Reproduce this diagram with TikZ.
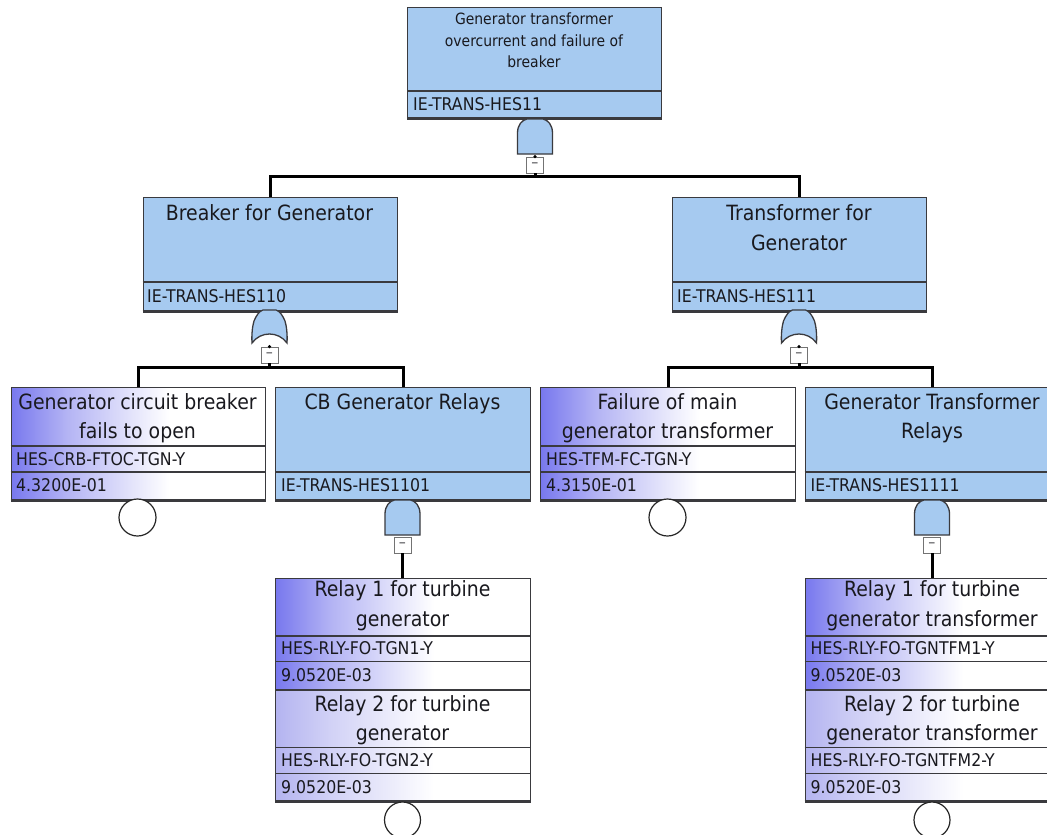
\documentclass[tikz,border=0pt]{standalone}
\usepackage{fontspec}
\setmainfont{DejaVu Sans}[FakeStretch=0.9]
\definecolor{gatec}{RGB}{166,202,240}
\definecolor{bordc}{RGB}{58,58,62}
\definecolor{evL}{RGB}{120,120,238}
\definecolor{evM}{RGB}{180,180,244}
\definecolor{evLL}{RGB}{180,180,240}
\definecolor{evLM}{RGB}{210,210,246}
\definecolor{txtc}{RGB}{25,25,30}
\pgfdeclarehorizontalshading{evshade}{100bp}{color(0bp)=(evL); color(25bp)=(evL); color(36bp)=(evM); color(56bp)=(white); color(100bp)=(white)}
\pgfdeclarehorizontalshading{evshadeb}{100bp}{color(0bp)=(evLL); color(25bp)=(evLL); color(36bp)=(evLM); color(56bp)=(white); color(100bp)=(white)}
\newcommand\myandgate[3]{%
  \draw[gatest] ({#2-17.5},{#3+35}) -- ({#2-17.5},{#3+14})
    .. controls ({#2-17.5},{#3+6}) and ({#2-13},{#3+1}) .. ({#2-8},{#3})
    -- ({#2+8},{#3})
    .. controls ({#2+13},{#3+1}) and ({#2+17.5},{#3+6}) .. ({#2+17.5},{#3+14})
    -- ({#2+17.5},{#3+35}) -- cycle;
  \coordinate (#1) at (#2,{#3+35});}
\newcommand\myorgate[3]{%
  \draw[gatest] ({#2-17.5},{#3+33})
    .. controls ({#2-18},{#3+24}) and ({#2-17},{#3+16}) .. ({#2-15.5},{#3+11})
    .. controls ({#2-13},{#3+5}) and ({#2-10},{#3+1}) .. ({#2-6.5},{#3})
    -- ({#2+6.5},{#3})
    .. controls ({#2+10},{#3+1}) and ({#2+13},{#3+5}) .. ({#2+15.5},{#3+11})
    .. controls ({#2+17},{#3+16}) and ({#2+18},{#3+24}) .. ({#2+17.5},{#3+33})
    .. controls ({#2+9},{#3+21}) and ({#2-9},{#3+21}) .. cycle;
  \coordinate (#1) at (#2,{#3+24});}
\begin{document}
\begin{tikzpicture}[x=1pt,y=-1pt,
  gbox/.style={draw=bordc, line width=1.3pt, fill=gatec, rectangle, inner sep=0pt, anchor=north west},
  ebox/.style={draw=bordc, line width=1.3pt, shade, shading=evshade, rectangle, inner sep=0pt, anchor=north west},
  eboxb/.style={draw=bordc, line width=1.3pt, shade, shading=evshadeb, rectangle, inner sep=0pt, anchor=north west},
  divl/.style={draw=bordc, line width=1.3pt},
  botl/.style={draw=bordc, line width=2.8pt},
  ttl/.style={font=\fontsize{21}{29.5}\selectfont, align=center, inner sep=0pt, text=txtc},
  ttlsm/.style={font=\fontsize{15.5}{21.5}\selectfont, align=center, inner sep=0pt, text=txtc},
  idt/.style={font=\fontsize{17.5}{20}\selectfont, anchor=west, inner sep=0pt, text=txtc},
  gatest/.style={draw=bordc, line width=1.3pt, fill=gatec},
  minusbox/.style={draw=black!55, line width=0.8pt, fill=white, minimum width=17pt, minimum height=16pt, inner sep=0pt, font=\fontsize{10}{10}\selectfont, text=txtc},
  conn/.style={draw=black, line width=3pt},
  bev/.style={circle, draw=black!85, line width=1.2pt, fill=white, minimum size=37pt, inner sep=0pt},
  jdot/.style={circle, fill=black, inner sep=0pt, minimum size=3.5pt}
]
\useasboundingbox (0,0) rectangle (1047,835);
\clip (0,0) rectangle (1047,835);
\fill[white] (0,0) rectangle (1047,835);

% ---------- junction points ----------
\coordinate (j0) at (535,176);
\coordinate (j1) at (269.5,367);
\coordinate (j2) at (799,367);

% ---------- top gate ----------
\node[gbox, minimum width=254pt, minimum height=110pt] (G0) at (407,7) {};
\draw[divl] (G0.west |- 0,91) -- (G0.east |- 0,91);
\draw[botl] (G0.south west) -- (G0.south east);
\node[ttlsm] (G0t) at (534,40.5) {Generator transformer\\overcurrent and failure of\\breaker};
\node[idt] (G0i) at (413,104.5) {IE-TRANS-HES11};
\myandgate{g0}{535}{119}
\node[minusbox] (M0) at (535,165) {−};

% ---------- second level ----------
\node[gbox, minimum width=254pt, minimum height=113pt] (G1) at (142.5,197) {};
\draw[divl] (G1.west |- 0,282) -- (G1.east |- 0,282);
\draw[botl] (G1.south west) -- (G1.south east);
\node[ttl] (G1t) at (269.5,213) {Breaker for Generator};
\node[idt] (G1i) at (147,296) {IE-TRANS-HES110};

\node[gbox, minimum width=254pt, minimum height=113pt] (G2) at (672,197) {};
\draw[divl] (G2.west |- 0,282) -- (G2.east |- 0,282);
\draw[botl] (G2.south west) -- (G2.south east);
\node[ttl] (G2t) at (799,227.5) {Transformer for\\Generator};
\node[idt] (G2i) at (677,296) {IE-TRANS-HES111};

\myorgate{g1}{269.5}{310}
\node[minusbox] (M1) at (269.5,355) {−};
\myorgate{g2}{799}{310}
\node[minusbox] (M2) at (799,355) {−};

% ---------- third level ----------
\node[ebox, minimum width=254.5pt, minimum height=112pt] (E1) at (10.5,387) {};
\draw[divl] (E1.west |- 0,446) -- (E1.east |- 0,446);
\draw[divl] (E1.west |- 0,472) -- (E1.east |- 0,472);
\draw[botl] (E1.south west) -- (E1.south east);
\node[ttl] (E1t) at (137.5,418) {Generator circuit breaker\\fails to open};
\node[idt] (E1i) at (16,459.5) {HES-CRB-FTOC-TGN-Y};
\node[idt] (E1p) at (16,485.5) {4.3200E-01};
\node[bev] (C1) at (137.5,517.5) {};

\node[gbox, minimum width=255pt, minimum height=112pt] (G3) at (275,387) {};
\draw[divl] (G3.west |- 0,472) -- (G3.east |- 0,472);
\draw[botl] (G3.south west) -- (G3.south east);
\node[ttl] (G3t) at (402.5,404) {CB Generator Relays};
\node[idt] (G3i) at (281,485.5) {IE-TRANS-HES1101};

\node[ebox, minimum width=255pt, minimum height=112pt] (E2) at (540,387) {};
\draw[divl] (E2.west |- 0,446) -- (E2.east |- 0,446);
\draw[divl] (E2.west |- 0,472) -- (E2.east |- 0,472);
\draw[botl] (E2.south west) -- (E2.south east);
\node[ttl] (E2t) at (667.5,418) {Failure of main\\generator transformer};
\node[idt] (E2i) at (546,459.5) {HES-TFM-FC-TGN-Y};
\node[idt] (E2p) at (546,485.5) {4.3150E-01};
\node[bev] (C2) at (667.5,517.5) {};

\node[gbox, minimum width=255pt, minimum height=112pt] (G4) at (804.5,387) {};
\draw[divl] (G4.west |- 0,472) -- (G4.east |- 0,472);
\draw[botl] (G4.south west) -- (G4.south east);
\node[ttl] (G4t) at (932,418) {Generator Transformer\\Relays};
\node[idt] (G4i) at (810.5,485.5) {IE-TRANS-HES1111};

\myandgate{g3}{402.5}{500}
\node[minusbox] (M3) at (402.5,545) {−};
\myandgate{g4}{932}{500}
\node[minusbox] (M4) at (932,545) {−};

% ---------- relay boxes ----------
\node[ebox, minimum width=255pt, minimum height=112pt] (R1) at (275,577.5) {};
\draw[divl] (R1.west |- 0,636) -- (R1.east |- 0,636);
\draw[divl] (R1.west |- 0,661.5) -- (R1.east |- 0,661.5);
\draw[botl] (R1.south west) -- (R1.south east);
\node[ttl] (R1t) at (402.5,605.5) {Relay 1 for turbine\\generator};
\node[idt] (R1i) at (281,648.5) {HES-RLY-FO-TGN1-Y};
\node[idt] (R1p) at (281,675) {9.0520E-03};

\node[eboxb, minimum width=255pt, minimum height=111pt] (R2) at (275,689.5) {};
\draw[divl] (R2.west |- 0,747.5) -- (R2.east |- 0,747.5);
\draw[divl] (R2.west |- 0,773.5) -- (R2.east |- 0,773.5);
\draw[botl] (R2.south west) -- (R2.south east);
\node[ttl] (R2t) at (402.5,720) {Relay 2 for turbine\\generator};
\node[idt] (R2i) at (281,760.5) {HES-RLY-FO-TGN2-Y};
\node[idt] (R2p) at (281,787) {9.0520E-03};
\node[bev, minimum size=36pt] (C3) at (402.5,820) {};

\node[ebox, minimum width=255pt, minimum height=112pt] (R3) at (804.5,577.5) {};
\draw[divl] (R3.west |- 0,636) -- (R3.east |- 0,636);
\draw[divl] (R3.west |- 0,661.5) -- (R3.east |- 0,661.5);
\draw[botl] (R3.south west) -- (R3.south east);
\node[ttl] (R3t) at (932,605.5) {Relay 1 for turbine\\generator transformer};
\node[idt] (R3i) at (810.5,648.5) {HES-RLY-FO-TGNTFM1-Y};
\node[idt] (R3p) at (810.5,675) {9.0520E-03};

\node[eboxb, minimum width=255pt, minimum height=111pt] (R4) at (804.5,689.5) {};
\draw[divl] (R4.west |- 0,747.5) -- (R4.east |- 0,747.5);
\draw[divl] (R4.west |- 0,773.5) -- (R4.east |- 0,773.5);
\draw[botl] (R4.south west) -- (R4.south east);
\node[ttl] (R4t) at (932,720) {Relay 2 for turbine\\generator transformer};
\node[idt] (R4i) at (810.5,760.5) {HES-RLY-FO-TGNTFM2-Y};
\node[idt] (R4p) at (810.5,787) {9.0520E-03};
\node[bev, minimum size=36pt] (C4) at (932,820) {};

% ---------- connector lines ----------
\draw[conn] (M0.south) -- (j0);
\draw[conn] (G1.north) |- (j0) -| (G2.north);
\draw[conn] (M1.south) -- (j1);
\draw[conn] (E1.north) |- (j1) -| (G3.north);
\draw[conn] (M2.south) -- (j2);
\draw[conn] (E2.north) |- (j2) -| (G4.north);
\draw[conn] (M3.south) -- (M3.south |- R1.north);
\draw[conn] (M4.south) -- (M4.south |- R3.north);

% junction dots
\node[jdot] (D0) at (M0.north) {};
\node[jdot] (D1) at (M1.north) {};
\node[jdot] (D2) at (M2.north) {};
\end{tikzpicture}
\end{document}
